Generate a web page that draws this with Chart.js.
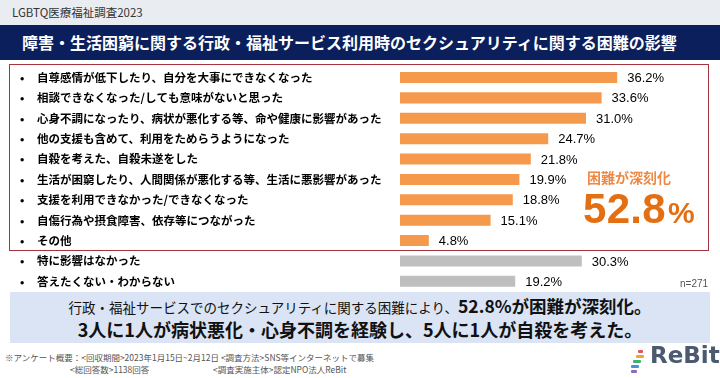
<!DOCTYPE html>
<html>
<head>
<meta charset="utf-8">
<script src="https://cdn.jsdelivr.net/npm/chart.js@4"></script>
<style>
  html, body { margin: 0; padding: 0; }
  body { width: 720px; height: 378px; position: relative; overflow: hidden; background: #fff;
         font-family: "Noto Sans CJK JP", "Liberation Sans", sans-serif; }
  .topbar { position: absolute; left: 0; top: 0; width: 720px; height: 25px; background: #e9ecf1; }
  .topbar span { position: absolute; left: 12px; top: 4px; font-size: 11.5px; color: #333; }
  .titlebar { position: absolute; left: 0; top: 25px; width: 720px; height: 35px; background: #0b1f5c;
              color: #fff; font-weight: bold; font-size: 16px; line-height: 35px; padding-left: 22px; box-sizing: border-box; }
  .redbox { position: absolute; left: 9px; top: 64px; width: 698px; height: 185px; border: 1px solid #a4343f; }
  #wrap { position: absolute; left: 0; top: 64px; width: 720px; height: 228px; }
  .tag { position: absolute; left: 587px; top: 167px; font-size: 14px; font-weight: bold; color: #ec8a45; }
  .big { position: absolute; left: 583px; top: 185px; font-family: "Liberation Sans", Arial, sans-serif;
         font-weight: bold; font-size: 42px; color: #e46f12; letter-spacing: 0.3px; }
  .big small { font-size: 30px; margin-left: 2px; }
  .n { position: absolute; left: 680px; top: 278px; font-size: 10px; color: #555; font-family: "Liberation Sans", sans-serif; }
  .bluebox { position: absolute; left: 10px; top: 292px; width: 700px; height: 51px; background: #dae4f4; text-align: center; }
  .l1 { position: absolute; left: 0; right: 0; top: 1px; font-size: 13.5px; color: #111; }
  .l1 b { font-size: 17.5px; }
  .l2 { position: absolute; left: 0; right: 0; top: 24px; font-size: 18px; font-weight: bold; color: #111; }
  .foot { position: absolute; left: 5px; font-size: 8.5px; color: #555; white-space: nowrap; }
  .logo { position: absolute; left: 650px; top: 342px; font-family: "DejaVu Sans", sans-serif; font-weight: bold;
          font-size: 23px; color: #4b5a70; }
  .ic { position: absolute; height: 3px; border-radius: 1px; }
</style>
</head>
<body>
<div class="topbar"><span>LGBTQ医療福祉調査2023</span></div>
<div class="titlebar">障害・生活困窮に関する行政・福祉サービス利用時のセクシュアリティに関する困難の影響</div>
<div class="redbox"></div>
<div id="wrap"><canvas id="c" width="720" height="228"></canvas></div>
<div class="tag">困難が深刻化</div>
<div class="big">52.8<small>%</small></div>
<div class="n">n=271</div>
<div class="bluebox">
  <div class="l1">行政・福祉サービスでのセクシュアリティに関する困難により、<b>52.8%が困難が深刻化。</b></div>
  <div class="l2">3人に1人が病状悪化・心身不調を経験し、5人に1人が自殺を考えた。</div>
</div>
<div class="foot" style="top:351px">※アンケート概要：&lt;回収期間&gt;2023年1月15日~2月12日 &lt;調査方法&gt;SNS等インターネットで募集</div>
<div class="foot" style="top:363px;left:70px">&lt;総回答数&gt;1138回答</div>
<div class="foot" style="top:363px;left:213px">&lt;調査実施主体&gt;認定NPO法人ReBit</div>
<div class="ic" style="left:638px;top:350px;width:5px;background:#e8505b"></div>
<div class="ic" style="left:636px;top:355px;width:8px;background:#f5a623"></div>
<div class="ic" style="left:633px;top:360px;width:8px;background:#3cb371"></div>
<div class="ic" style="left:631px;top:365px;width:8px;background:#4a90d9"></div>
<div class="ic" style="left:631px;top:370px;width:6px;background:#8e6bbf"></div>
<div class="logo">ReBit</div>
<script>
// 障害・生活困窮に関する困難の影響 (%)
const labels = [
  "自尊感情が低下したり、自分を大事にできなくなった",
  "相談できなくなった/しても意味がないと思った",
  "心身不調になったり、病状が悪化する等、命や健康に影響があった",
  "他の支援も含めて、利用をためらうようになった",
  "自殺を考えた、自殺未遂をした",
  "生活が困窮したり、人間関係が悪化する等、生活に悪影響があった",
  "支援を利用できなかった/できなくなった",
  "自傷行為や摂食障害、依存等につながった",
  "その他",
  "特に影響はなかった",
  "答えたくない・わからない"
];
const values = [36.2, 33.6, 31.0, 24.7, 21.8, 19.9, 18.8, 15.1, 4.8, 30.3, 19.2];
const colors = values.map((v, i) => i < 9 ? "#f59a4c" : "#bfbfbf");

const textPlugin = {
  id: "texts",
  afterDatasetsDraw(chart) {
    const ctx = chart.ctx;
    const y = chart.scales.y;
    const bars = chart.getDatasetMeta(0).data;
    ctx.save();
    ctx.textBaseline = "middle";
    labels.forEach((lab, i) => {
      const py = y.getPixelForValue(i);
      ctx.fillStyle = "#000";
      ctx.font = "bold 11.5px 'Noto Sans CJK JP'";
      ctx.textAlign = "left";
      ctx.fillText("•", 20, py);
      ctx.fillText(lab, 37, py);
      ctx.font = "13px 'Liberation Sans', Arial, sans-serif";
      ctx.fillText(values[i].toFixed(1) + "%", bars[i].x + 10, py + 1);
    });
    ctx.restore();
  }
};

new Chart(document.getElementById("c"), {
  type: "bar",
  data: {
    labels: labels,
    datasets: [{
      data: values,
      backgroundColor: colors,
      barPercentage: 0.54,
      categoryPercentage: 1.0,
    }],
  },
  options: {
    indexAxis: "y",
    responsive: false,
    animation: false,
    layout: { padding: { top: 3.3, bottom: 0.5, left: 0, right: 20 } },
    plugins: { legend: { display: false }, tooltip: { enabled: false } },
    scales: {
      x: { display: false, min: 0, max: 50 },
      y: {
        grid: { display: false },
        border: { display: false },
        ticks: { display: false },
        afterFit(s) { s.width = 400; },
      },
    },
  },
  plugins: [textPlugin],
});
</script>
</body>
</html>
